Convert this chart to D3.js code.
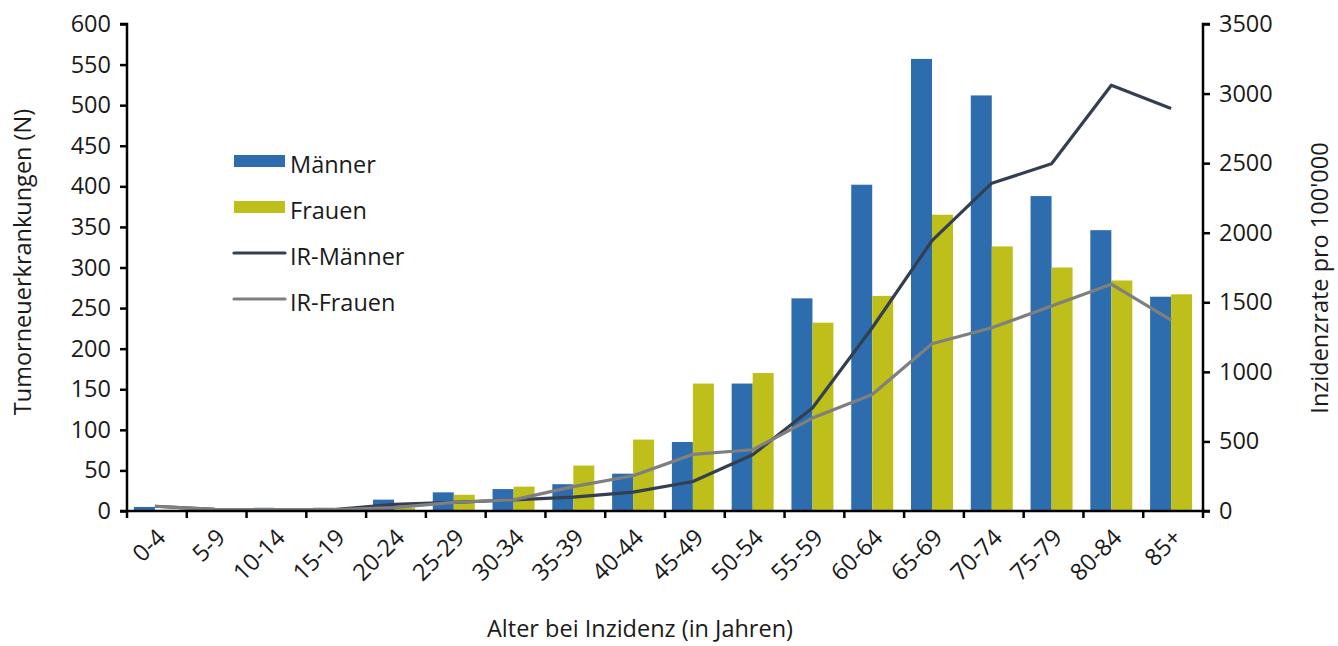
<!DOCTYPE html>
<html><head><meta charset="utf-8">
<script src="https://cdn.jsdelivr.net/npm/d3@7"></script>
<style>body{margin:0;background:#fff;} svg{display:block;} text{font-family:"Open Sans","Noto Sans",sans-serif;fill:#1a1a1a;}</style>
</head><body><svg id="c" width="1338" height="646"></svg>
<script>
const categories = ["0-4","5-9","10-14","15-19","20-24","25-29","30-34","35-39","40-44","45-49","50-54","55-59","60-64","65-69","70-74","75-79","80-84","85+"];
const maenner = [5,1,4,4,14,23,27,33,46,85,157,262,402,557,512,388,346,264];
const frauen = [1,1,1,2,4,20,30,56,88,157,170,232,265,365,326,300,284,267];
const irMaenner = [34,12,10,10,48,62,80,100,136,212,404,740,1317,1943,2356,2495,3060,2892];
const irFrauen = [34,12,10,10,24,62,80,175,253,407,440,668,837,1202,1317,1473,1630,1371];
const leftTicks = [0,50,100,150,200,250,300,350,400,450,500,550,600];
const rightTicks = [0,500,1000,1500,2000,2500,3000,3500];

const svg = d3.select("#c");
const L = 127, R = 1203, T = 24, B = 511;
const FS = "23.5px";
const x = d3.scaleBand().domain(categories).range([L, R]);
const yL = d3.scaleLinear().domain([0, 600]).range([B, T]);
const yR = d3.scaleLinear().domain([0, 3500]).range([B, T]);
const barW = 21, off = -2;
const cx = c => x(c) + x.bandwidth()/2 + off;

const cM = "#2E6DAD", cF = "#BFBF1C", cIRM = "#333F50", cIRF = "#7F7F7F";

// bars
svg.append("g").selectAll("rect").data(categories).join("rect")
  .attr("x", c => cx(c) - barW).attr("width", barW)
  .attr("y", (c,i) => yL(maenner[i])).attr("height", (c,i) => B - yL(maenner[i]))
  .attr("fill", cM);
svg.append("g").selectAll("rect").data(categories).join("rect")
  .attr("x", c => cx(c)).attr("width", barW)
  .attr("y", (c,i) => yL(frauen[i])).attr("height", (c,i) => B - yL(frauen[i]))
  .attr("fill", cF);

// lines
const line = d3.line().x(d => cx(d[0])).y(d => yR(d[1]));
svg.append("path").datum(categories.map((c,i)=>[c, irMaenner[i]]))
  .attr("d", line).attr("fill","none").attr("stroke", cIRM).attr("stroke-width",3.2).attr("stroke-linejoin","round");
svg.append("path").datum(categories.map((c,i)=>[c, irFrauen[i]]))
  .attr("d", line).attr("fill","none").attr("stroke", cIRF).attr("stroke-width",3.2).attr("stroke-linejoin","round");

// axes
const axL = svg.append("g").attr("transform",`translate(${L},0)`)
  .call(d3.axisLeft(yL).tickValues(leftTicks).tickFormat(d3.format("d")).tickSize(7).tickPadding(9));
const axR = svg.append("g").attr("transform",`translate(${R},0)`)
  .call(d3.axisRight(yR).tickValues(rightTicks).tickFormat(d3.format("d")).tickSize(7).tickPadding(9));
[axL, axR].forEach(a => {
  a.select(".domain").attr("stroke","#000").attr("stroke-width",2.5);
  a.selectAll(".tick line").attr("stroke","#000").attr("stroke-width",2.5);
  a.selectAll(".tick text").style("font-size",FS).attr("fill","#1a1a1a");
});
axR.select(".domain").attr("d", `M7,${T}H0V${B}H7`);
axL.select(".domain").attr("d", `M-7,${T}H0V${B}H-7`);

// x axis line and ticks at band boundaries
const gx = svg.append("g");
gx.append("line").attr("x1", L).attr("x2", R+2).attr("y1", B).attr("y2", B).attr("stroke","#000").attr("stroke-width",2.5);
const bounds = categories.map(c => x(c)).concat([R]);
gx.selectAll("line.t").data(bounds).join("line").attr("class","t")
  .attr("x1", d=>d).attr("x2", d=>d).attr("y1", B).attr("y2", B+7).attr("stroke","#000").attr("stroke-width",2.5);
gx.selectAll("text").data(categories).join("text")
  .attr("transform", c => `translate(${x(c)+x.bandwidth()/2+10},${B+28}) rotate(-45)`)
  .attr("text-anchor","end").style("font-size",FS).text(c => c);

// titles
svg.append("text").attr("x", 640).attr("y", 637).attr("text-anchor","middle").style("font-size",FS).text("Alter bei Inzidenz (in Jahren)");
svg.append("text").attr("transform","translate(31,262) rotate(-90)").attr("text-anchor","middle").style("font-size",FS).text("Tumorneuerkrankungen (N)");
svg.append("text").attr("transform","translate(1328,278) rotate(-90)").attr("text-anchor","middle").style("font-size",FS).text("Inzidenzrate pro 100'000");

// legend
const leg = svg.append("g");
const items = [
  {n:"Männer", t:"rect", c:cM, y:161},
  {n:"Frauen", t:"rect", c:cF, y:207},
  {n:"IR-Männer", t:"line", c:cIRM, y:253},
  {n:"IR-Frauen", t:"line", c:cIRF, y:299}
];
items.forEach(it => {
  if (it.t === "rect") leg.append("rect").attr("x",234).attr("y",it.y-6).attr("width",51).attr("height",12).attr("fill",it.c);
  else leg.append("line").attr("x1",234).attr("x2",285).attr("y1",it.y).attr("y2",it.y).attr("stroke",it.c).attr("stroke-width",3.2).attr("stroke-linecap","round");
  leg.append("text").attr("x",290).attr("y",it.y+12).style("font-size",FS).text(it.n);
});
</script></body></html>
